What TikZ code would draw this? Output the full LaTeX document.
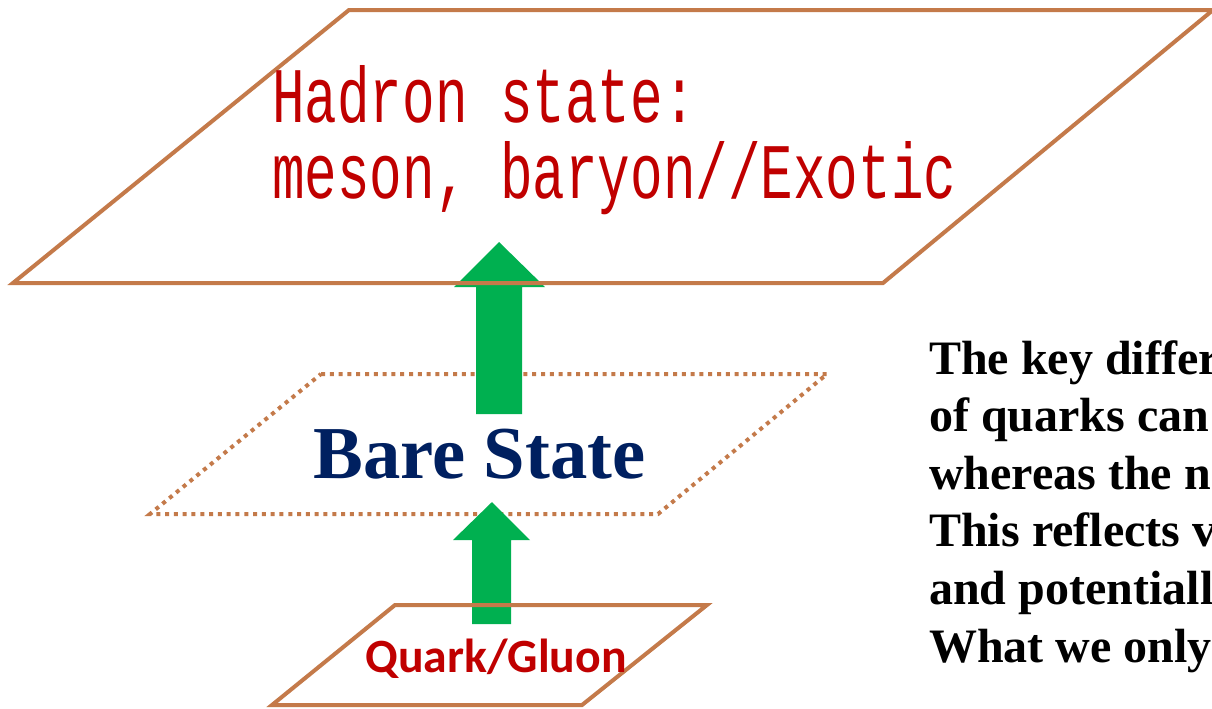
\documentclass[tikz,border=0pt]{standalone}
\usepackage{fontspec}
\newfontfamily\hadfont[FakeStretch=0.69]{Liberation Mono}
\newfontfamily\tnrfont{Liberation Serif}
\newfontfamily\calfont{Carlito}
\definecolor{layerbrown}{RGB}{196,122,74}
\definecolor{hadred}{RGB}{192,0,0}
\definecolor{barenavy}{RGB}{0,32,96}
\definecolor{arrowgreen}{RGB}{0,176,80}
\tikzset{
  layer/.style={draw=layerbrown, line width=3pt, line join=miter},
  dotlayer/.style={draw=layerbrown, line width=3pt, dash pattern=on 3pt off 3.6pt},
  bigarrow/.style={fill=arrowgreen, draw=none},
  txt/.style={inner sep=0pt, anchor=base west},
}
\begin{document}
\begin{tikzpicture}[x=0.75pt,y=-0.75pt]
\clip (0,0) rectangle (1212,708);
\fill[white] (0,0) rectangle (1212,708);
% dotted bare-state layer
\draw[dotlayer] (321,374) -- (827,374) -- (658,514) -- (150,514) -- cycle;
% green arrows
\fill[bigarrow] (476,414) -- (476,287) -- (454,287) -- (499,242) -- (545,287) -- (522,287) -- (522,414) -- cycle;
\fill[bigarrow] (472,624) -- (472,540) -- (453,540) -- (492,502) -- (530,540) -- (511,540) -- (511,624) -- cycle;
% hadron layer
\draw[layer] (13,283) -- (349,10) -- (1213,10) -- (883,283) -- cycle;
% quark layer
\draw[layer] (395,605) -- (707,605) -- (582,705) -- (272,705) -- cycle;
% texts
\node[txt, text=hadred, font=\hadfont\fontsize{59pt}{59pt}\selectfont] (had1) at (272,122) {Hadron state:};
\node[txt, text=hadred, font=\hadfont\fontsize{59pt}{59pt}\selectfont] (had2) at (272,198) {meson, baryon//Exotic};
\node[txt, text=barenavy, font=\tnrfont\bfseries\fontsize{56pt}{56pt}\selectfont] (bare) at (313,478) {Bare State};
\node[txt, text=hadred, font=\calfont\bfseries\fontsize{35.8pt}{35.8pt}\selectfont] (quark) at (365,672) {Quark/Gluon};
\foreach \t [count=\i] in {The key differ, of quarks can, whereas the n, This reflects v, and potentiall, What we only}{
  \node[txt, text=black, font=\tnrfont\bfseries\fontsize{36pt}{36pt}\selectfont] (r\i) at (929,{374+(\i-1)*57.6}) {\t};
}
\end{tikzpicture}
\end{document}
